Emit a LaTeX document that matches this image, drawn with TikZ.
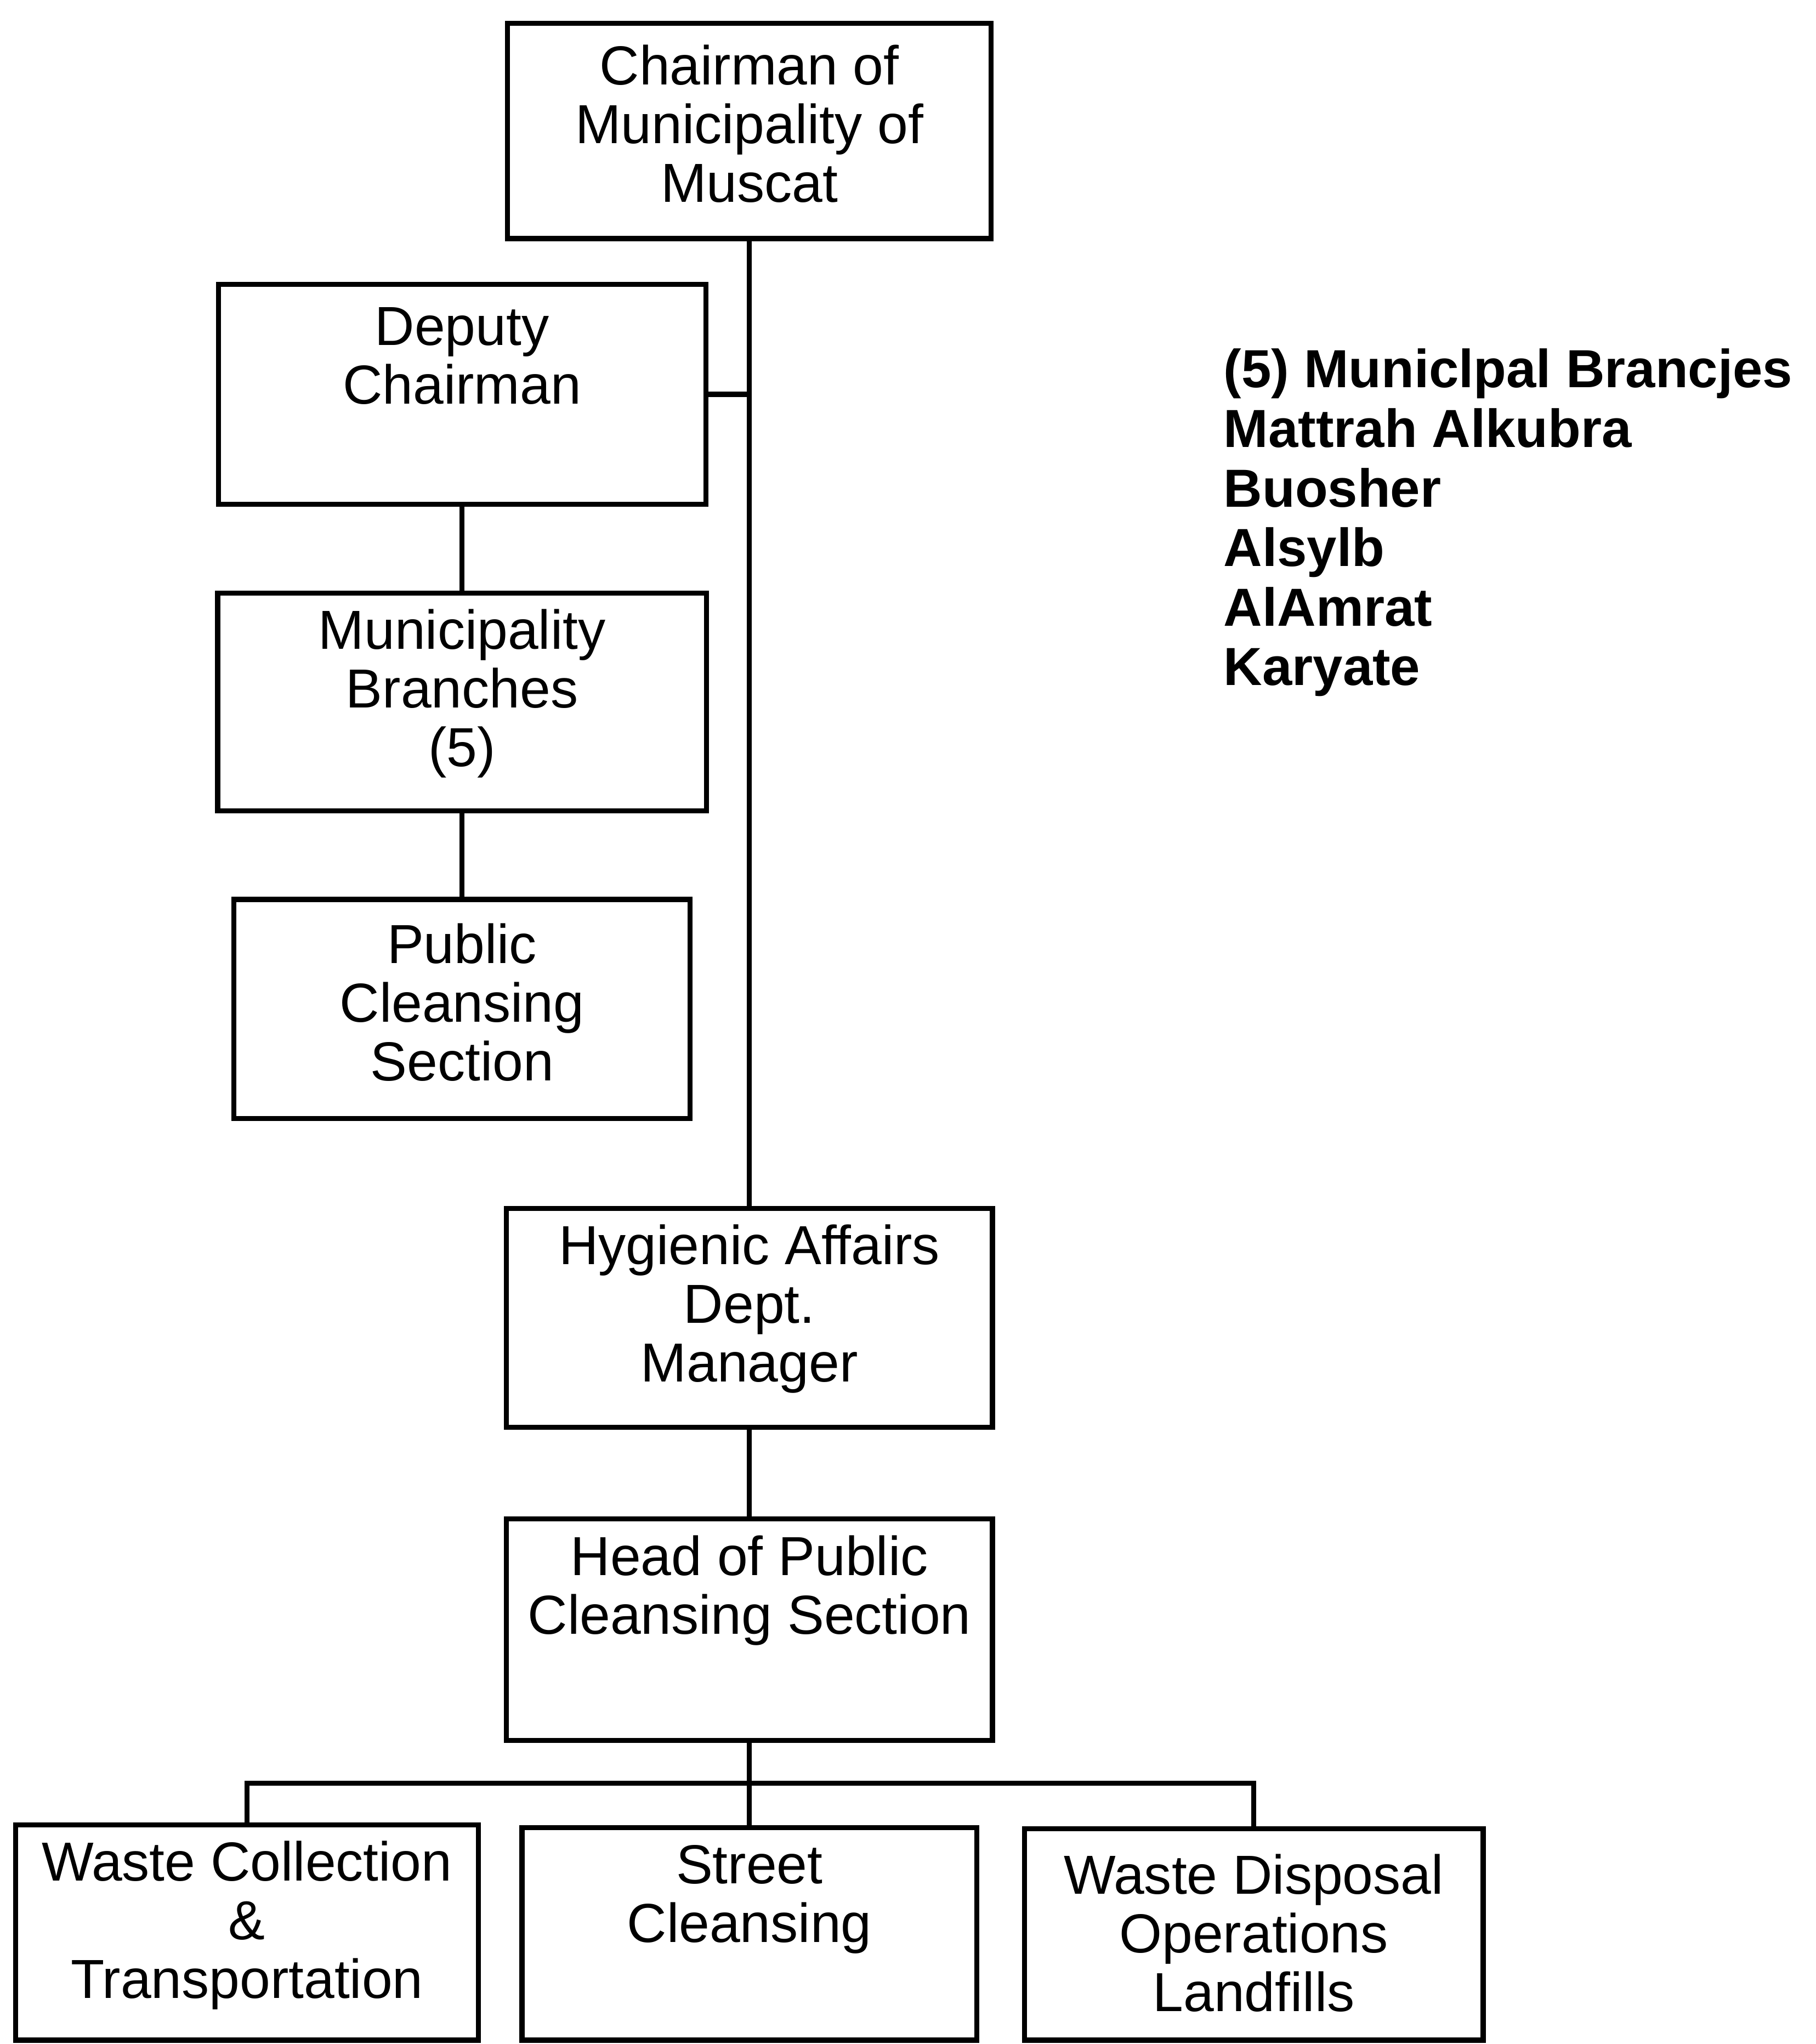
\documentclass[tikz,border=0pt]{standalone}
\usepackage{fontspec}
\setmainfont{Liberation Sans}
\usetikzlibrary{positioning}

\begin{document}
\begin{tikzpicture}[
  every node/.style={font=\fontsize{12}{12.8}\selectfont},
  orgbox/.style={draw, line width=1.1pt, inner sep=0pt},
  line width=1.1pt
]
\useasboundingbox (0,0) rectangle (13.93,-15.68);

% Top of the chain
\node[orgbox, minimum width=3.71cm, minimum height=1.65cm] (chair) at (5.75, -1.005) {};
\node[align=center] (chairtxt) at (5.75, -0.95) {Chairman of\\Municipality of\\Muscat};

% Left branch
\node[orgbox, minimum width=3.74cm, minimum height=1.69cm] (deputy) at (3.545, -3.025) {};
\node[align=center] (deputytxt) at (3.545, -2.73) {Deputy\\Chairman};

\node[orgbox, minimum width=3.75cm, minimum height=1.67cm] (branches) at (3.545, -5.385) {};
\node[align=center] (branchestxt) at (3.545, -5.32) {Municipality\\Branches\\(5)};

\node[orgbox, minimum width=3.50cm, minimum height=1.68cm] (public) at (3.545, -7.74) {};
\node[align=center] (publictxt) at (3.545, -7.69) {Public\\Cleansing\\Section};

% Main line
\node[orgbox, minimum width=3.73cm, minimum height=1.68cm] (hyg) at (5.75, -10.11) {};
\node[align=center] (hygtxt) at (5.75, -10.04) {Hygienic Affairs\\Dept.\\Manager};

\node[orgbox, minimum width=3.73cm, minimum height=1.70cm] (head) at (5.75, -12.50) {};
\node[align=center] (headtxt) at (5.75, -12.20) {Head of Public\\Cleansing Section};

% Bottom row
\node[orgbox, minimum width=3.55cm, minimum height=1.65cm] (collect) at (1.895, -14.825) {};
\node[align=center] (collecttxt) at (1.895, -14.77) {Waste Collection\\\&\\Transportation};

\node[orgbox, minimum width=3.49cm, minimum height=1.63cm] (street) at (5.75, -14.835) {};
\node[align=center] (streettxt) at (5.75, -14.57) {Street\\Cleansing};

\node[orgbox, minimum width=3.52cm, minimum height=1.62cm] (disposal) at (9.62, -14.84) {};
\node[align=center] (disposaltxt) at (9.62, -14.83) {Waste Disposal\\Operations\\Landfills};

% Branch list
\node[align=left, anchor=west, inner sep=0pt,
      font=\bfseries\fontsize{11.7}{13}\selectfont]
  (brlist) at (9.37, -4.01)
  {(5) Municlpal Brancjes\\Mattrah Alkubra\\Buosher\\Alsylb\\AlAmrat\\Karyate};

% Links
\draw (chair.south) -- (hyg.north);
\draw (deputy.east) -- (deputy.east -| chair.south);
\draw (deputy.south) -- (branches.north);
\draw (branches.south) -- (public.north);
\draw (hyg.south) -- (head.north);

\coordinate (bus) at (5.75, -13.68);
\draw (head.south) -- (bus);
\draw (collect.north) |- (bus) -| (disposal.north);
\draw (bus) -- (street.north);

\end{tikzpicture}
\end{document}
